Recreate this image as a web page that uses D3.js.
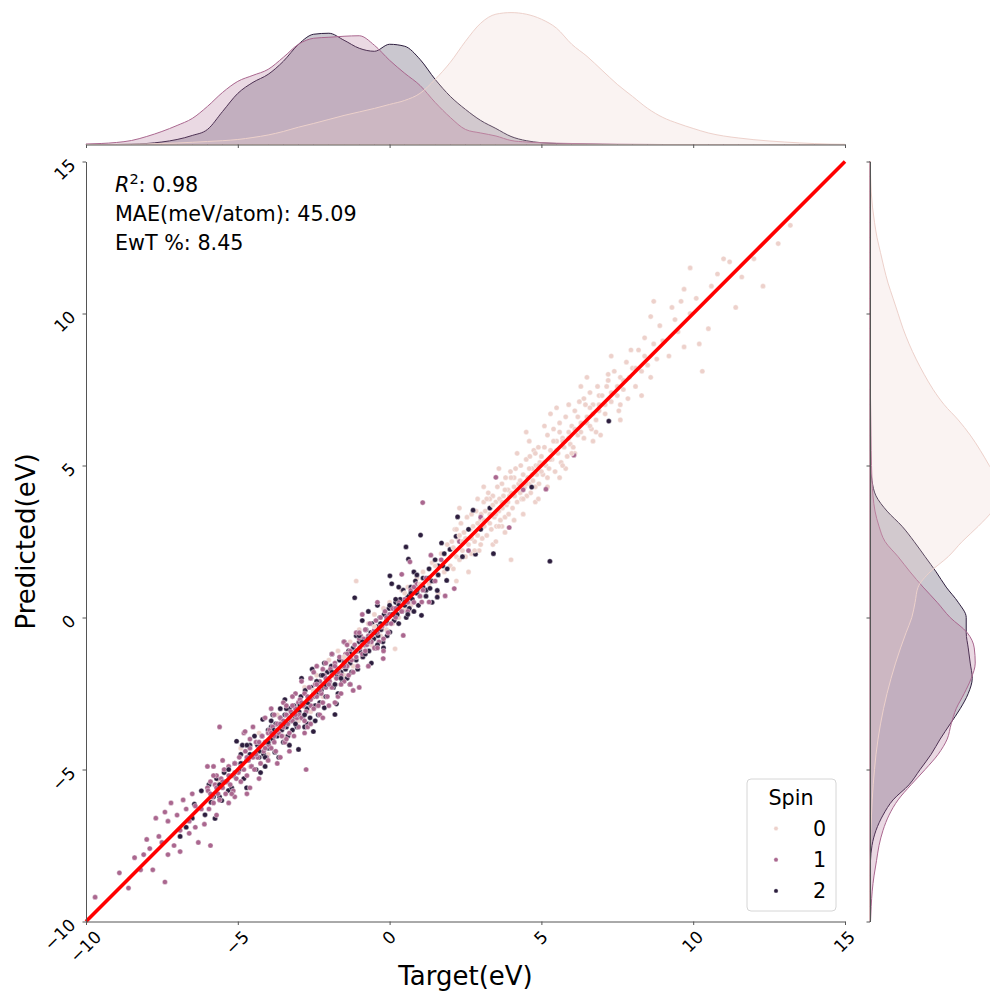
<!DOCTYPE html>
<html><head><meta charset="utf-8">
<script src="https://cdn.jsdelivr.net/npm/d3@7"></script>
<style>body{margin:0;background:#fff;} svg{display:block;font-family:"DejaVu Sans",sans-serif;}</style>
</head><body><svg id="chart" width="990" height="999"></svg>
<script>
// ---------------- DATA ----------------
const spinLevels = [0, 1, 2];
const spinColors = ["#edd1cb", "#aa678f", "#2d1e3e"];
const tickValues = [-10, -5, 0, 5, 10, 15];
const xTickLabels = ["−10", "−5", "0", "5", "10", "15"];
const yTickLabels = ["−10", "−5", "0", "5", "10", "15"];
const xLabel = "Target(eV)";
const yLabel = "Predicted(eV)";
const legendTitle = "Spin";
const statR2 = "0.98";
const statMAE = "MAE(meV/atom): 45.09";
const statEwT = "EwT %: 8.45";

// [target, predicted]
const spin0Points = [
[-5.6,-5.4],[-5.2,-5.6],[-4.9,-4.3],[-4.6,-4.9],[-4.3,-3.8],[-4.0,-4.5],[-3.7,-3.2],[-3.5,-3.9],[-3.2,-2.6],[-3.0,-3.4],
[-2.8,-2.3],[-2.6,-3.1],[-2.4,-1.9],[-2.2,-2.6],[-2.0,-1.4],[-1.8,-2.2],[-1.7,-1.1],[-1.5,-1.9],[-1.3,-0.8],[-1.2,-1.6],
[-1.0,-0.4],[-0.9,-1.3],[-0.7,-0.2],[-0.6,-0.9],[-0.5,0.1],[-0.3,-0.6],[-0.2,0.3],[-0.1,-0.4],[0.0,0.5],[-2.9,-2.0],[-1.1,1.2],[0.18,-1.03],
[0.1,-0.2],[0.2,0.6],[0.3,0.0],[0.4,0.9],[0.5,0.3],[0.6,1.0],[0.7,0.4],[0.8,0.2],[0.9,1.3],[1.0,0.7],
[1.1,1.5],[1.2,0.9],[1.3,1.1],[1.4,1.8],[1.5,1.2],[1.6,0.8],[1.7,2.1],[1.8,1.5],[1.9,2.4],[2.0,1.7],
[2.05,2.5],[2.1,1.6],[2.15,2.9],[2.2,2.0],[2.25,2.6],[2.3,1.9],[2.35,3.1],[2.4,2.2],[2.45,2.8],[2.5,2.0],
[2.55,3.3],[2.6,2.4],[2.65,2.9],[2.7,2.1],[2.75,3.0],[2.8,2.5],[2.85,3.5],[2.9,2.7],[2.95,2.2],[3.0,3.2],
[2.3,3.6],[2.6,1.5],[2.9,3.9],[2.2,1.2],[2.7,3.4],
[3.02,3.4],[3.05,2.6],[3.1,3.8],[3.12,3.0],[3.15,3.5],[3.2,2.7],[3.25,4.1],[3.3,3.1],[3.32,3.6],[3.35,2.9],
[3.4,4.0],[3.45,3.3],[3.5,3.8],[3.52,3.0],[3.55,4.3],[3.6,3.5],[3.62,3.9],[3.65,3.2],[3.7,4.4],[3.72,3.6],
[3.75,4.0],[3.8,3.3],[3.82,4.6],[3.85,3.7],[3.9,4.2],[3.92,3.4],[3.95,4.0],[3.98,4.8],[3.4,2.4],[3.6,4.9],
[3.1,4.3],[3.8,2.8],[3.3,3.9],[3.7,3.0],[3.5,2.5],[4.0,1.9],
[4.0,4.1],[4.05,3.6],[4.1,4.6],[4.12,4.0],[4.15,4.9],[4.2,3.8],[4.25,4.4],[4.3,4.1],[4.32,5.0],[4.35,3.9],
[4.4,4.7],[4.45,4.3],[4.5,5.2],[4.52,4.0],[4.55,4.6],[4.6,4.4],[4.62,5.3],[4.65,4.1],[4.7,4.9],[4.72,4.5],
[4.75,5.5],[4.8,4.3],[4.82,5.0],[4.85,4.7],[4.9,5.6],[4.92,4.4],[4.95,5.1],[4.98,4.8],[4.2,5.4],[4.4,3.4],
[4.6,5.8],[4.8,3.8],[4.1,3.2],[4.5,6.1],[4.9,3.9],
[5.0,5.3],[5.05,4.7],[5.1,5.6],[5.15,5.0],[5.2,6.0],[5.25,4.9],[5.3,5.5],[5.35,5.2],[5.4,6.2],[5.45,4.8],
[5.5,5.8],[5.55,5.4],[5.6,6.4],[5.65,5.1],[5.7,5.9],[5.75,5.6],[5.8,6.6],[5.85,5.3],[5.9,6.1],[5.95,5.7],
[5.2,4.3],[5.5,6.9],[5.8,4.9],[5.3,6.7],[5.6,4.6],[5.9,7.0],[5.1,6.3],[5.7,5.0],
[6.0,6.3],[6.05,5.6],[6.1,6.8],[6.2,6.0],[6.25,7.1],[6.3,6.4],[6.4,5.9],[6.45,7.0],[6.5,6.6],[6.6,7.4],
[6.65,6.2],[6.7,7.0],[6.8,6.5],[6.85,7.6],[6.9,6.8],[6.95,6.0],[6.3,7.6],[6.7,5.8],[6.5,7.9],[6.9,7.3],[6.1,5.4],[6.6,6.9],
[7.0,7.3],[7.1,6.7],[7.2,7.8],[7.3,7.1],[7.4,8.1],[7.5,7.3],[7.55,6.8],[7.6,7.9],[7.7,7.5],[7.8,8.4],
[7.85,7.2],[7.9,7.9],[7.3,8.6],[7.6,6.5],[7.95,8.8],[7.15,7.6],
[8.0,8.2],[8.1,7.6],[8.2,8.8],[8.3,8.1],[8.4,9.2],[8.5,8.3],[8.6,7.9],[8.7,9.0],[8.8,8.5],[8.9,9.6],[8.3,7.3],[8.6,9.9],
[9.0,9.1],[9.2,8.6],[9.3,10.2],[9.5,9.4],[9.6,10.4],[9.7,8.9],[9.9,10.0],[9.4,9.8],
[9.9,11.5],[10.2,9.0],[12.3,10.9],[12.8,12.3],[10.8,11.3],[11.4,10.2],[11.0,11.8],[9.7,10.8],[10.5,9.5],[11.6,11.2],
[8.7,10.4],[10.3,8.1],[10.1,10.5],[10.6,10.9],[11.2,11.7],[12.0,11.8],[13.2,12.9],
[2.1,2.3],[2.3,2.7],[2.5,2.6],[2.7,2.6],[2.9,3.1],[3.1,3.2],[3.3,3.4],[3.5,3.4],[3.7,3.8],[3.9,3.8],
[4.1,4.3],[4.3,4.5],[4.5,4.4],[4.7,4.7],[4.9,5.0],[5.1,5.1],[5.3,5.2],[5.5,5.5],[5.7,5.8],[5.9,5.9],
[6.1,6.2],[6.3,6.1],[6.5,6.4],[6.7,6.7],[6.9,7.0],[7.1,7.0],[7.3,7.4],[7.5,7.6],[7.7,7.8],[8.1,8.2],
[2.2,2.9],[2.8,2.2],[3.2,3.9],[3.6,3.0],[4.0,4.6],[4.4,3.9],[4.8,5.4],[5.2,4.6],[5.6,6.1],[6.0,5.4],
[6.4,7.2],[6.8,6.1],[7.2,8.0],[7.6,7.0],[8.4,8.6],[3.4,3.7],[4.6,4.9],[5.4,5.8],[6.2,6.6],[3.0,2.4],
[1.5,1.7],[1.0,1.1],[0.5,0.8],[-0.5,-0.3],[-1.5,-1.3],[-2.5,-2.4],[2.4,2.5],[3.8,4.2],[5.0,4.8],[6.6,6.3]
];

const spin1Points = [
[-9.7,-9.2],[-8.2,-8.3],[-7.8,-8.3],[-7.4,-8.7],[-7.9,-7.6],[-7.3,-7.8],[-6.9,-7.7],[-7.1,-7.5],[-6.3,-7.4],[-5.9,-7.5],
[-7.7,-6.6],[-7.4,-6.4],[-7.3,-6.7],[-6.8,-6.0],[-6.9,-7.0],[-6.4,-6.9],[-6.7,-6.3],[-5.7,-6.5],[-8.6,-8.9],[-8.9,-8.4],
[-8.0,-7.3],[-7.6,-7.2],[-7.0,-6.5],[-6.6,-6.7],[-6.2,-6.3],[-6.5,-5.8],[-6.1,-6.8],[-6.0,-5.6],[-8.4,-7.9],[-7.2,-6.1],
[-5.98,-5.7],[-5.95,-6.3],[-5.9,-5.4],[-5.85,-5.9],[-5.8,-6.1],[-5.75,-5.5],[-5.7,-5.2],[-5.65,-5.8],[-5.6,-6.0],[-5.55,-5.3],
[-5.5,-5.6],[-5.45,-5.0],[-5.4,-5.8],[-5.35,-5.4],[-5.3,-4.9],[-5.25,-5.5],[-5.2,-5.2],[-5.15,-5.7],[-5.1,-4.8],[-5.05,-5.3],
[-5.6,-3.6],[-5.5,-4.7],[-5.3,-6.1],[-5.8,-4.9],[-5.1,-5.9],[-6.0,-4.9],
[-4.98,-5.1],[-4.95,-4.6],[-4.9,-5.4],[-4.85,-4.8],[-4.8,-5.0],[-4.75,-4.4],[-4.7,-5.2],[-4.65,-4.7],[-4.6,-4.3],[-4.55,-4.9],
[-4.5,-4.5],[-4.45,-5.0],[-4.4,-4.1],[-4.35,-4.6],[-4.3,-4.3],[-4.25,-4.8],[-4.2,-3.9],[-4.15,-4.4],[-4.1,-4.1],[-4.05,-4.6],
[-4.0,-3.8],[-4.8,-3.8],[-4.7,-5.8],[-4.5,-3.6],[-4.3,-5.3],[-4.1,-3.3],[-4.6,-5.6],[-4.76,-3.75],
[-3.98,-4.2],[-3.95,-3.7],[-3.9,-4.3],[-3.85,-3.6],[-3.8,-3.9],[-3.75,-4.4],[-3.7,-3.5],[-3.65,-3.8],[-3.6,-3.3],[-3.55,-3.9],
[-3.5,-3.6],[-3.45,-4.1],[-3.4,-3.2],[-3.35,-3.5],[-3.3,-3.8],[-3.25,-3.1],[-3.2,-3.4],[-3.15,-3.9],[-3.1,-3.0],[-3.05,-3.3],
[-3.0,-3.6],[-3.9,-3.0],[-3.7,-4.8],[-3.5,-2.8],[-3.3,-4.4],[-3.1,-2.5],[-3.6,-4.6],[-3.2,-2.6],[-3.8,-3.2],[-3.4,-4.0],
[-2.75,-5.0],[-3.0,-2.8],
[-2.98,-3.2],[-2.95,-2.7],[-2.9,-3.3],[-2.85,-2.9],[-2.8,-2.5],[-2.75,-3.1],[-2.7,-2.8],[-2.65,-2.3],[-2.6,-2.9],[-2.55,-2.6],
[-2.5,-3.0],[-2.45,-2.2],[-2.4,-2.6],[-2.35,-2.9],[-2.3,-2.1],[-2.25,-2.5],[-2.2,-2.8],[-2.15,-1.9],[-2.1,-2.3],[-2.05,-2.6],
[-2.0,-2.0],[-2.9,-2.1],[-2.7,-3.6],[-2.5,-1.8],[-2.3,-3.2],[-2.1,-1.5],[-2.6,-3.5],[-2.4,-1.6],[-2.2,-3.3],[-2.8,-3.8],
[-2.0,-2.9],[-2.6,-2.0],
[-1.98,-2.1],[-1.95,-1.7],[-1.9,-2.3],[-1.85,-1.8],[-1.8,-1.5],[-1.75,-2.0],[-1.7,-1.7],[-1.65,-1.3],[-1.6,-1.9],[-1.55,-1.6],
[-1.5,-2.1],[-1.45,-1.2],[-1.4,-1.6],[-1.35,-1.9],[-1.3,-1.1],[-1.25,-1.4],[-1.2,-1.8],[-1.15,-0.9],[-1.1,-1.3],[-1.05,-1.6],
[-1.0,-2.3],[-1.9,-1.2],[-1.7,-2.6],[-1.5,-0.8],[-1.3,-2.2],[-1.1,-0.5],[-1.6,-2.5],[-1.4,-0.9],[-1.2,-2.4],[-1.8,-2.8],
[-1.0,-0.7],[-1.5,-1.4],
[-0.98,-1.0],[-0.95,-0.6],[-0.9,-1.2],[-0.85,-0.7],[-0.8,-0.4],[-0.75,-0.9],[-0.7,-0.6],[-0.65,-0.2],[-0.6,-0.8],[-0.55,-0.5],
[-0.5,-1.0],[-0.45,-0.1],[-0.4,-0.5],[-0.35,-0.8],[-0.3,0.0],[-0.25,-0.3],[-0.2,-0.7],[-0.21,-1.35],[-0.15,0.2],[-0.1,-0.2],
[-0.05,-0.5],[0.0,0.1],[-0.9,0.1],[-0.7,-1.6],[-0.4,0.5],[-0.2,-1.1],
[0.05,-0.2],[0.1,0.3],[0.2,0.0],[0.3,0.5],[0.4,1.42],[0.45,-0.59],[0.5,0.6],[0.6,0.2],[0.67,1.83],[0.7,0.9],
[0.8,0.5],[0.9,1.1],[1.0,0.7],[1.06,0.51],[1.09,3.78],[1.2,1.3],[1.3,0.51],[1.36,2.05],[1.5,1.2],[1.7,1.9],
[1.83,0.71],[2.13,0.95],
[2.3,2.5],[2.6,2.2],[3.0,3.3],[3.5,4.61],[3.94,2.96],[5.15,4.22],[6.07,5.34],[4.4,4.2],
[-5.9,-5.8],[-5.7,-5.6],[-5.5,-5.4],[-5.3,-5.2],[-5.1,-5.1],[-4.9,-4.9],[-4.7,-4.6],[-4.5,-4.6],[-4.3,-4.1],[-4.1,-4.3],
[-3.9,-3.8],[-3.7,-3.7],[-3.5,-3.4],[-3.3,-3.3],[-3.1,-3.2],[-2.9,-2.8],[-2.7,-2.6],[-2.5,-2.5],[-2.3,-2.4],[-2.1,-2.0],
[-1.9,-1.9],[-1.7,-1.8],[-1.5,-1.6],[-1.3,-1.3],[-1.1,-1.1],[-0.9,-0.9],[-0.7,-0.8],[-0.5,-0.4],[-0.3,-0.3],[-0.1,0.0],
[-5.8,-5.2],[-5.2,-5.8],[-4.6,-4.0],[-4.0,-4.7],[-3.4,-2.9],[-2.8,-3.4],[-2.2,-1.7],[-1.6,-2.2],[-1.0,-0.5],[-0.4,-1.0],
[-3.8,-4.1],[-3.2,-2.9],[-2.6,-2.7],[-2.0,-2.2],[-1.4,-1.2],[-0.8,-1.1],[0.2,0.3],[0.6,0.5],[0.8,1.0],[1.1,0.9],
[-6.4,-6.2],[-6.6,-7.1],[-7.5,-7.4],[-8.1,-7.8],[-4.4,-4.5],[-3.6,-3.5],[-2.4,-2.2],[-1.8,-1.6],[-0.6,-0.6],[0.4,0.2]
];

const spin2Points = [
[-6.43,-6.14],[-5.75,-6.61],[-5.88,-6.08],[-5.53,-6.02],[-6.08,-6.49],[-5.31,-5.69],[-6.7,-6.9],[-6.2,-5.7],[-5.95,-5.5],[-5.7,-5.3],
[-5.6,-5.9],[-5.45,-5.1],[-5.2,-5.6],[-5.1,-4.8],[-5.04,-4.07],[-6.9,-7.2],[-6.5,-6.6],[-5.8,-5.9],[-5.4,-5.4],[-5.15,-5.2],
[-4.95,-5.0],[-4.9,-4.5],[-4.8,-5.3],[-4.71,-5.6],[-4.7,-4.7],[-4.6,-4.2],[-4.55,-4.9],[-4.5,-4.5],[-4.4,-5.0],[-4.35,-4.2],
[-4.3,-4.6],[-4.2,-3.9],[-4.18,-3.35],[-4.15,-4.5],[-4.1,-4.9],[-4.05,-4.1],[-4.0,-3.7],[-4.85,-4.2],[-4.45,-3.9],[-4.25,-5.1],
[-3.98,-4.3],[-3.9,-3.6],[-3.85,-4.0],[-3.78,-4.43],[-3.75,-3.5],[-3.7,-3.9],[-3.6,-3.3],[-3.55,-3.7],[-3.5,-4.1],[-3.45,-3.2],
[-3.4,-3.6],[-3.35,-3.9],[-3.3,-3.0],[-3.25,-3.4],[-3.2,-3.7],[-3.15,-2.9],[-3.1,-3.3],[-3.05,-3.6],[-3.0,-4.34],[-3.0,-2.8],
[-3.65,-4.6],[-3.45,-2.7],[-3.85,-3.2],[-3.3,-4.2],[-3.6,-3.0],
[-2.98,-3.1],[-2.92,-2.6],[-2.88,-3.3],[-2.82,-2.9],[-2.78,-2.4],[-2.72,-3.0],[-2.68,-2.7],[-2.62,-3.3],[-2.58,-2.3],[-2.51,-3.75],
[-2.5,-2.6],[-2.45,-2.9],[-2.4,-2.1],[-2.35,-2.5],[-2.3,-2.8],[-2.25,-1.9],[-2.2,-2.3],[-2.15,-2.97],[-2.1,-2.6],[-2.05,-1.8],
[-2.02,-2.2],[-2.9,-2.0],[-2.7,-3.5],[-2.55,-1.7],[-2.35,-3.2],[-2.15,-1.5],[-2.6,-2.0],[-2.45,-3.4],[-2.25,-2.4],[-2.8,-3.6],
[-1.98,-2.1],[-1.92,-1.6],[-1.85,-2.3],[-1.8,-3.19],[-1.75,-2.84],[-1.72,-1.9],[-1.65,-1.4],[-1.6,-1.8],[-1.55,-2.1],[-1.5,-1.3],
[-1.45,-1.7],[-1.4,-2.0],[-1.35,-1.1],[-1.3,-1.5],[-1.25,-1.8],[-1.2,-1.0],[-1.15,0.65],[-1.1,-1.4],[-1.05,-1.7],[-1.0,-0.8],
[-1.9,-1.2],[-1.7,-2.5],[-1.5,-0.8],[-1.3,-2.2],[-1.1,-0.6],
[-0.98,-1.1],[-0.92,-0.7],[-0.88,-1.3],[-0.82,-0.9],[-0.78,-0.4],[-0.72,-0.8],[-0.68,-1.1],[-0.62,-0.5],[-0.58,-0.2],[-0.52,-0.7],
[-0.48,-1.0],[-0.42,-0.3],[-0.38,-0.6],[-0.32,0.0],[-0.28,-0.4],[-0.22,-0.8],[-0.18,0.1],[-0.12,-0.2],[-0.08,-0.6],[-0.02,0.3],
[-0.9,-0.1],[-0.6,-1.5],[-0.4,0.4],[-0.2,-1.0],[-0.7,0.2],
[0.01,-0.48],[0.01,1.37],[0.07,1.11],[0.1,0.3],[0.15,-0.1],[0.2,0.5],[0.25,0.1],[0.3,-0.2],[0.35,0.6],[0.4,0.2],
[0.45,0.9],[0.5,0.4],[0.54,2.32],[0.55,0.0],[0.6,0.7],[0.62,1.92],[0.65,0.3],[0.7,1.0],[0.75,0.6],[0.8,0.2],
[0.85,1.2],[0.9,0.8],[0.95,0.4],[0.3,1.0],[0.8,1.5],
[1.02,2.71],[1.05,0.07],[1.1,1.3],[1.2,0.9],[1.3,1.6],[1.33,0.96],[1.4,1.2],[1.5,1.9],[1.57,0.67],[1.57,0.89],
[1.6,1.4],[1.71,2.45],[1.75,1.7],[1.8,2.1],[1.88,1.22],[1.9,1.6],[1.99,2.24],[1.4,0.5],
[2.19,2.67],[2.24,3.31],[2.4,2.0],[2.75,3.53],[2.83,2.08],[3.0,2.9],[3.42,2.1],[3.3,3.6],[4.68,4.29],[5.28,1.85],[7.22,6.46],[2.6,2.9],
[-4.9,-4.8],[-4.6,-4.5],[-4.3,-4.4],[-4.0,-4.1],[-3.8,-3.7],[-3.5,-3.5],[-3.2,-3.2],[-2.95,-2.9],[-2.7,-2.8],[-2.5,-2.4],
[-2.3,-2.3],[-2.1,-2.2],[-1.9,-1.8],[-1.7,-1.7],[-1.5,-1.5],[-1.3,-1.2],[-1.1,-1.1],[-0.9,-0.8],[-0.7,-0.7],[-0.5,-0.5],
[-0.3,-0.2],[-0.1,-0.1],[0.1,0.1],[0.3,0.4],[0.5,0.5],[0.7,0.8],[0.9,0.9],[1.1,1.0],[1.3,1.3],[1.6,1.7],
[-4.7,-4.2],[-4.1,-4.6],[-3.4,-3.0],[-2.8,-3.2],[-2.2,-1.9],[-1.6,-2.0],[-1.0,-0.6],[-0.4,-0.9],[0.2,0.6],[0.6,0.1],
[-5.3,-5.0],[-5.6,-5.5],[-3.9,-3.4],[-3.1,-3.5],[-2.4,-2.1],[-1.8,-2.2],[-0.8,-1.2],[0.0,0.4],[0.9,1.4],[1.2,0.7]
];

const kdeGrid = [-10,-9.5,-9,-8.5,-8,-7.5,-7,-6.5,-6,-5.5,-5,-4.5,-4,-3.5,-3,-2.5,-2,-1.5,-1,-0.5,0,0.5,1,1.5,2,2.5,3,3.5,4,4.5,5,5.5,6,6.5,7,7.5,8,8.5,9,9.5,10,10.5,11,11.5,12,12.5,13,13.5,14,14.5,15];
// density of Target (top margin), arbitrary common units
const targetKde0 = [0,0,0.1,0.3,0.6,1,1.5,2.2,3,3.8,5,7,9.5,13,17.3,21,25,29,32.5,36,40,44,51,65,82,103,121,130,131.6,130,125,116,100,88,74,60,48,36,27,21,16,11.5,8.5,6.5,4.8,3.5,2.5,1.6,0.9,0.4,0.2];
const targetKde1 = [0.5,1,2,4,8,13,19,26,38,52,63,69,75,87,100,106,107,108,108.5,99,84,71,59,42,27,15,11.5,8.5,4,2.5,1.8,1.3,1,0.7,0.5,0.3,0.2,0.1,0,0,0,0,0,0,0,0,0,0,0,0,0];
const targetKde2 = [0,0,0,0.3,1,2.5,5,9,15,33,51,62,70,83,100,110,111,104,96,93,100,98,85,65,48,35,24,16,8,3.8,1.8,1,0.5,0.3,0.1,0,0,0,0,0,0,0,0,0,0,0,0,0,0,0,0];
// density of Predicted (right margin)
const predKde0 = [0,0,0.1,0.2,0.3,0.6,1,1.5,2.2,3.2,4.5,6,8,10.5,13.5,17,21,25.5,30.5,36,41.7,45,48,60,78,92,108,122,130,128,119,110,100,88,74,63,54,46,39,33,28,23,18,14,10.5,7,4.5,2.5,1.2,0.6,0.3];
const predKde1 = [0.5,1.2,2.2,4,6.5,9,13,19,28,41,55,68,77,81,86,94,101,105,104,97,80,67,53,40,28,15,9,5,3,2,1.5,1.2,1,0.8,0.6,0.4,0.3,0.2,0.1,0,0,0,0,0,0,0,0,0,0,0,0];
const predKde2 = [0,0,0,0.1,0.5,2,6,13,23,39,50,61,70,80,90,98,102,100,98,96,96,88,76,66,55,44,32,17,6,2,0.5,0.3,0.2,0.15,0.1,0.08,0.05,0.03,0,0,0,0,0,0,0,0,0,0,0,0,0];

// ---------------- DRAW ----------------
const svg = d3.select("#chart");
const axisColor = "#555";
const fsTick = 17, fsLabel = 26, fsText = 20.7;

const x = d3.scaleLinear().domain([-10, 15]).range([86, 845]);
const y = d3.scaleLinear().domain([-10, 15]).range([921.5, 161.5]);
const kdeMax = d3.max([targetKde0, targetKde1, targetKde2, predKde0, predKde1, predKde2].flat());
const yTop = d3.scaleLinear().domain([0, kdeMax * 1.05]).range([144.5, 144.5 - 138.5]);
const xRight = d3.scaleLinear().domain([0, kdeMax * 1.05]).range([870, 870 + 138.5]);
const color = d3.scaleOrdinal().domain(spinLevels).range(spinColors);

// ---- top marginal ----
const topKdes = [targetKde0, targetKde1, targetKde2];
const rightKdes = [predKde0, predKde1, predKde2];
const gTop = svg.append("g");
const areaTop = d3.area().x(d => x(d[0])).y0(yTop(0)).y1(d => yTop(d[1])).curve(d3.curveMonotoneX);
[2, 1, 0].forEach(k => {
  const pts = kdeGrid.map((v, i) => [v, topKdes[k][i]]);
  gTop.append("path").attr("d", areaTop(pts))
    .attr("fill", color(spinLevels[k])).attr("fill-opacity", 0.25)
    .attr("stroke", color(spinLevels[k])).attr("stroke-width", 1);
});
gTop.append("g").attr("transform", `translate(0,${yTop(0)})`)
  .call(d3.axisBottom(x).tickValues(tickValues).tickSize(3.5).tickSizeOuter(0).tickFormat(""))
  .call(g => { g.selectAll("path,line").attr("stroke", axisColor).attr("stroke-width", 1); });

// ---- right marginal ----
const gRight = svg.append("g");
const areaRight = d3.area().y(d => y(d[0])).x0(xRight(0)).x1(d => xRight(d[1])).curve(d3.curveMonotoneY);
[2, 1, 0].forEach(k => {
  const pts = kdeGrid.map((v, i) => [v, rightKdes[k][i]]);
  gRight.append("path").attr("d", areaRight(pts))
    .attr("fill", color(spinLevels[k])).attr("fill-opacity", 0.25)
    .attr("stroke", color(spinLevels[k])).attr("stroke-width", 1);
});
gRight.append("g").attr("transform", `translate(${xRight(0)},0)`)
  .call(d3.axisLeft(y).tickValues(tickValues).tickSize(3.5).tickSizeOuter(0).tickFormat(""))
  .call(g => { g.selectAll("path,line").attr("stroke", axisColor).attr("stroke-width", 1); });

// ---- main scatter ----
const groups = [spin0Points, spin1Points, spin2Points];
const nMax = d3.max(groups, g => g.length);
const allPts = [];
for (let i = 0; i < nMax; i++) {
  groups.forEach((g, k) => { if (i < g.length) allPts.push({t: g[i][0], p: g[i][1], s: spinLevels[k]}); });
}
svg.append("g").selectAll("circle").data(allPts).join("circle")
  .attr("cx", d => x(d.t)).attr("cy", d => y(d.p)).attr("r", 2.6)
  .attr("fill", d => color(d.s)).attr("stroke", "#fff").attr("stroke-width", 0.4);

// identity line
svg.append("line").attr("x1", x(-10)).attr("y1", y(-10)).attr("x2", x(15)).attr("y2", y(15))
  .attr("stroke", "#ff0000").attr("stroke-width", 3.6).attr("stroke-linecap", "butt");

// main axes
svg.append("g").attr("transform", `translate(0,${y(-10)})`)
  .call(d3.axisBottom(x).tickValues(tickValues).tickSize(3.5).tickSizeOuter(0).tickFormat(""))
  .call(g => { g.selectAll("path,line").attr("stroke", axisColor).attr("stroke-width", 1); });
svg.append("g").attr("transform", `translate(${x(-10)},0)`)
  .call(d3.axisLeft(y).tickValues(tickValues).tickSize(3.5).tickSizeOuter(0).tickFormat(""))
  .call(g => { g.selectAll("path,line").attr("stroke", axisColor).attr("stroke-width", 1); });

// rotated tick labels (matplotlib-like placement)
const gxl = svg.append("g");
tickValues.forEach((v, i) => {
  const t = gxl.append("text").attr("font-size", fsTick).attr("text-anchor", "middle").attr("fill", "#000").text(xTickLabels[i]);
  const w = t.node().getComputedTextLength();
  const s = (w + fsTick) / Math.SQRT2;
  const cx = x(v), cy = y(-10) + 7 + s / 2;
  t.attr("transform", `translate(${cx},${cy}) rotate(-45)`).attr("y", fsTick * 0.3);
});
const gyl = svg.append("g");
tickValues.forEach((v, i) => {
  const t = gyl.append("text").attr("font-size", fsTick).attr("text-anchor", "middle").attr("fill", "#000").text(yTickLabels[i]);
  const w = t.node().getComputedTextLength();
  const s = (w + fsTick) / Math.SQRT2;
  const top = y(v) - fsTick * 0.3;
  const cx = x(-10) - 7 - s / 2, cy = top + s / 2;
  t.attr("transform", `translate(${cx},${cy}) rotate(-45)`).attr("y", fsTick * 0.3);
});

// axis labels
svg.append("text").attr("x", (x(-10) + x(15)) / 2).attr("y", 985).attr("text-anchor", "middle")
  .attr("font-size", fsLabel).text(xLabel);
svg.append("text").attr("transform", `translate(35,${(y(-10) + y(15)) / 2}) rotate(-90)`).attr("text-anchor", "middle")
  .attr("font-size", fsLabel).text(yLabel);

// stats annotation
const st = svg.append("g").attr("font-size", fsText);
const t1 = st.append("text").attr("x", 115).attr("y", 192);
t1.append("tspan").attr("font-style", "italic").text("R");
t1.append("tspan").attr("font-size", 14.5).attr("dy", -8).text("2");
t1.append("tspan").attr("dy", 8).text(": " + statR2);
st.append("text").attr("x", 115).attr("y", 221).text(statMAE);
st.append("text").attr("x", 115).attr("y", 250).text(statEwT);

// legend
const lg = svg.append("g");
lg.append("rect").attr("x", 747).attr("y", 779).attr("width", 89).attr("height", 132).attr("rx", 4)
  .attr("fill", "#fff").attr("fill-opacity", 0.8).attr("stroke", "#d6d6d6").attr("stroke-width", 1);
lg.append("text").attr("x", 791).attr("y", 805).attr("text-anchor", "middle").attr("font-size", fsText).text(legendTitle);
spinLevels.forEach((s, i) => {
  const cy = 828.5 + i * 31.2;
  lg.append("circle").attr("cx", 776).attr("cy", cy).attr("r", 2.2).attr("fill", color(s)).attr("stroke", "#fff").attr("stroke-width", 0.4);
  lg.append("text").attr("x", 813).attr("y", cy + 7).attr("font-size", fsText).text(String(s));
});
</script>
</body></html>
